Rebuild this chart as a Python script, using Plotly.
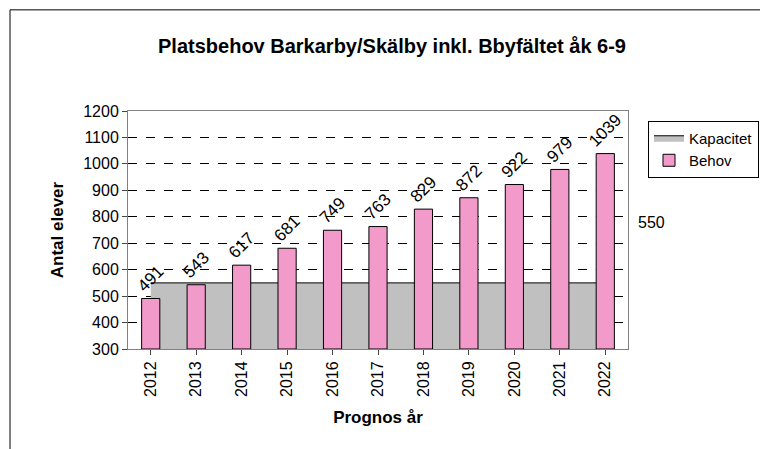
import plotly.graph_objects as go

years = ["2012", "2013", "2014", "2015", "2016", "2017", "2018", "2019", "2020", "2021", "2022"]
behov = [491, 543, 617, 681, 749, 763, 829, 872, 922, 979, 1039]
kapacitet = [550] * 11

fig = go.Figure()
fig.add_trace(go.Scatter(
    x=years, y=kapacitet, name="Kapacitet", mode="lines",
    fill="tozeroy", fillcolor="#C0C0C0", line=dict(color="black", width=1),
    xaxis="x", yaxis="y",
))
fig.add_trace(go.Bar(
    x=years, y=[v - 300 for v in behov], base=300, name="Behov", width=0.4,
    marker=dict(color="#F29BCB", line=dict(color="black", width=1)),
    text=[str(v) for v in behov], textposition="outside", textangle=-45,
    constraintext="none",
    textfont=dict(size=17, color="black", family="Arial Black, Arial"),
    cliponaxis=False, xaxis="x2", yaxis="y2",
))

fig.add_annotation(x=1.015, y=0.53, xref="paper", yref="paper", text="550",
                   showarrow=False, xanchor="left", font=dict(size=16, color="black"))

fig.update_layout(
    width=768, height=449,
    margin=dict(l=120, r=148, t=103, b=108),
    paper_bgcolor="white", plot_bgcolor="white",
    font=dict(family="Arial, Liberation Sans", size=16, color="black"),
    title=dict(text="<b>Platsbehov Barkarby/Skälby inkl. Bbyfältet åk 6-9</b>",
               x=0.5, y=0.93, xanchor="center", font=dict(size=20)),
    legend=dict(x=1.04, y=0.96, xanchor="left", yanchor="top",
                bordercolor="black", borderwidth=1, font=dict(size=15)),
    shapes=[dict(type="rect", xref="paper", yref="paper", x0=-0.236, x1=1.292, y0=-0.449, y1=1.425,
                 line=dict(color="black", width=1))],
    xaxis=dict(tickangle=-90, showline=True, linecolor="gray", mirror=True,
               title=dict(text="<b>Prognos år</b>", font=dict(size=17)), ticks="outside",
               tickfont=dict(size=16)),
    yaxis=dict(range=[300, 1200], dtick=100, showgrid=True, gridcolor="black",
               griddash="dash", gridwidth=1, showline=True, linecolor="gray", mirror=True,
               ticks="outside", title=dict(text="<b>Antal elever</b>", font=dict(size=17)),
               tickfont=dict(size=16)),
    xaxis2=dict(overlaying="x", matches="x", visible=False),
    yaxis2=dict(overlaying="y", range=[300, 1200], visible=False, showgrid=False),
)
fig.write_html("out.html")
